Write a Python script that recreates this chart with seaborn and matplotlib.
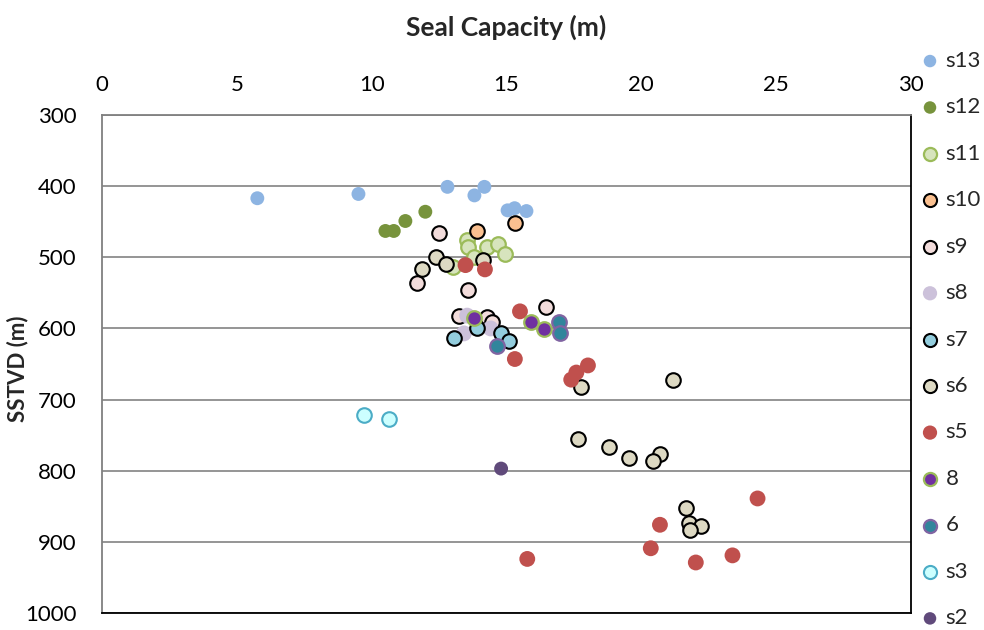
import matplotlib
matplotlib.use("Agg")
import matplotlib.pyplot as plt
import seaborn as sns
import pandas as pd

# Seal capacity (m) and depth SSTVD (m) for each sample group
s13_x = [5.76, 9.51, 12.81, 14.18, 13.81, 15.04, 15.30, 15.74]
s13_y = [417, 411, 401, 401, 413, 434, 431, 435]

s12_x = [10.51, 10.82, 11.25, 11.99]
s12_y = [463, 463, 449, 436]

s11_x = [13.52, 13.57, 13.79, 14.28, 14.69, 14.94, 13.02]
s11_y = [476, 485, 499, 485, 482, 496, 514]

s10_x = [13.91, 15.30]
s10_y = [463, 452]

s9_x = [12.49, 11.68, 13.58, 16.45, 13.23, 14.28, 14.47]
s9_y = [466, 536, 546, 570, 582, 584, 591]

s8_x = [13.54, 13.42, 14.41]
s8_y = [582, 607, 600]

s7_x = [13.05, 13.89, 14.80, 15.11]
s7_y = [613, 600, 606, 618]

s6_x = [12.37, 12.74, 11.87, 14.12, 17.75, 21.18, 17.65, 18.80, 19.54,
        20.68, 20.42, 21.66, 21.77, 22.22, 21.80]
s6_y = [500, 510, 516, 504, 683, 673, 756, 766, 782, 777, 786, 852, 873, 878, 884]

s5_x = [13.48, 14.20, 15.50, 15.31, 18.02, 17.59, 17.40, 24.31, 20.69,
        20.35, 22.02, 23.38, 15.77]
s5_y = [511, 517, 576, 643, 652, 662, 672, 839, 876, 909, 929, 919, 924]

g8_x = [13.79, 15.92, 16.39]
g8_y = [585, 591, 601]

g6_x = [14.65, 16.94, 17.00]
g6_y = [625, 591, 606]

s3_x = [9.70, 10.64]
s3_y = [722, 727]

s2_x = [14.80]
s2_y = [797]

x_ticks = [0, 5, 10, 15, 20, 25, 30]
y_ticks = [300, 400, 500, 600, 700, 800, 900, 1000]

# name, x, y, fill, edge, edge width, marker area
series = [
    ("s13", s13_x, s13_y, "#8DB4E2", "none", 0, 100),
    ("s12", s12_x, s12_y, "#77933C", "none", 0, 100),
    ("s11", s11_x, s11_y, "#D7E4BD", "#9BBB59", 1.6, 110),
    ("s10", s10_x, s10_y, "#FAC090", "black", 1.5, 110),
    ("s9", s9_x, s9_y, "#F2DCDB", "black", 1.5, 110),
    ("s8", s8_x, s8_y, "#CCC1DA", "none", 0, 130),
    ("s7", s7_x, s7_y, "#93CDDD", "black", 1.5, 110),
    ("s6", s6_x, s6_y, "#DDD9C3", "black", 1.5, 110),
    ("s5", s5_x, s5_y, "#C0504D", "none", 0, 130),
    ("8", g8_x, g8_y, "#7030A0", "#9BBB59", 1.6, 110),
    ("6", g6_x, g6_y, "#31859C", "#8064A2", 1.6, 110),
    ("s3", s3_x, s3_y, "#CCFFFF", "#4BACC6", 1.5, 110),
    ("s2", s2_x, s2_y, "#604A7B", "none", 0, 100),
]

sns.set_style("white")
plt.rcParams["font.family"] = ["Lato", "DejaVu Sans"]

fig = plt.figure(figsize=(9.84, 6.3), dpi=100)
ax = fig.add_axes([102 / 984, 1 - 613 / 630, 809 / 984, 498 / 630])

for name, xs, ys, fill, edge, lw, size in series:
    df = pd.DataFrame({"cap": xs, "depth": ys})
    sns.scatterplot(data=df, x="cap", y="depth", ax=ax, color=fill,
                    edgecolor=edge, linewidth=lw, s=size, label=name,
                    zorder=3, legend=True)

ax.set_xlim(0, 30)
ax.set_ylim(1000, 300)
ax.set_xticks(x_ticks)
ax.set_yticks(y_ticks)
ax.xaxis.tick_top()
ax.xaxis.set_label_position("top")
ax.tick_params(axis="both", length=0, labelsize=16, colors="black")
ax.tick_params(axis="x", pad=14.5)
ax.tick_params(axis="y", pad=18.5)

ax.set_xlabel("Seal Capacity (m)", fontsize=19, fontweight="bold")
ax.xaxis.set_label_coords(0.5, (613 - 27) / 498)
ax.xaxis.label.set_va("center")
ax.set_ylabel("SSTVD (m)", fontsize=16, fontweight="bold")
ax.yaxis.set_label_coords((18 - 102) / 809, 0.49)
ax.yaxis.label.set_va("center")

ax.grid(axis="y", color="#8C8C8C", linewidth=1.3)
ax.grid(axis="x", visible=False)
ax.set_axisbelow(True)

for side, col in (("top", "#808080"), ("left", "#808080"),
                  ("bottom", "black"), ("right", "black")):
    ax.spines[side].set_visible(True)
    ax.spines[side].set_color(col)
    ax.spines[side].set_linewidth(1.3)

leg = ax.legend(loc="upper left", bbox_to_anchor=(910 / 984, 1 - 42 / 630),
                bbox_transform=fig.transFigure, frameon=False, fontsize=16,
                handletextpad=0.2, labelspacing=1.19, borderaxespad=0,
                handlelength=1.0, markerscale=0.9)

fig.savefig("out.png", dpi=100)
